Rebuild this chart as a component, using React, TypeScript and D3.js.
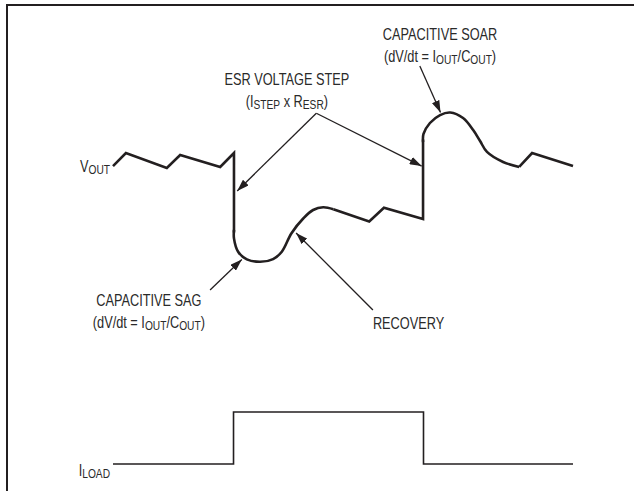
import React from "react";
import * as d3 from "d3";

const W = 634;
const H = 491;

// time runs 0..100 across the trace, VOUT as deviation units, ILOAD as 0 (light) / 1 (heavy)
const rippleBefore: [number, number][] = [
  [0, -0.7], [2.8, 8], [11.7, -2], [14.6, 6.7], [23.3, -1.3], [26.3, 8], [26.3, -45],
];
const sagCurve: [number, number][] = [
  [26.3, -43.3], [26.3, -48.9], [27.2, -57.8], [29.1, -62.9], [32.0, -64.5], [34.8, -62.7],
  [36.7, -57.8], [38.8, -45.5], [41.4, -35.5], [43.5, -30], [45.7, -28.2], [47.9, -29.5],
];
const recoveryRipple: [number, number][] = [
  [47.9, -29.5], [55.7, -37.7], [58.9, -28.5], [67.4, -36], [67.4, 17],
];
const soarCurve: [number, number][] = [
  [67.4, 15.3], [67.5, 20.7], [68.9, 28], [71.1, 33.3], [73.3, 35], [76.1, 31.3],
  [78.3, 23.3], [79.8, 16], [81.3, 8.7], [84.8, 2], [88.3, -1.3],
];
const rippleAfter: [number, number][] = [[88.3, -1.3], [91.1, 8], [100, -0.7]];

const loadEdges: [number, number][] = [[0, 0], [26.2, 1], [67.5, 0], [100, 0]];

type Seg = [string, boolean]; // text, subscript?
type Note = { t: number; v: number; anchor: string; lines: Seg[][] };

const notes: Note[] = [
  { t: 37.8, v: 53.3, anchor: "middle", lines: [
    [["ESR VOLTAGE STEP", false]],
    [["(I", false], ["STEP", true], [" x R", false], ["ESR", true], [")", false]],
  ] },
  { t: 71.1, v: 83.3, anchor: "middle", lines: [
    [["CAPACITIVE SOAR", false]],
    [["(dV/dt = I", false], ["OUT", true], ["/C", false], ["OUT", true], [")", false]],
  ] },
  { t: 7.8, v: -94, anchor: "middle", lines: [
    [["CAPACITIVE SAG", false]],
    [["(dV/dt = I", false], ["OUT", true], ["/C", false], ["OUT", true], [")", false]],
  ] },
  { t: 56.5, v: -109.3, anchor: "start", lines: [[["RECOVERY", false]]] },
  { t: -0.65, v: -4.7, anchor: "end", lines: [[["V", false], ["OUT", true]]] },
];
const loadLabel: Seg[] = [["I", false], ["LOAD", true]];
const loadLabelPos = { t: -0.65, level: -0.23 };

// arrows: [fromT, fromV, toT, toV]
const arrows: [number, number, number, number][] = [
  [44.2, 34.5, 27.0, -17.3],
  [44.2, 34.5, 67.1, -0.7],
  [66.7, 66, 71.2, 35],
  [21.1, -83.3, 28.0, -63],
  [56.5, -96.7, 39.8, -45.3],
];

const ink = "#231f20";
// condensed look: Liberation Sans squeezed horizontally
const font = "'Liberation Sans', Arial, sans-serif";
const squeeze = 0.75;

function Label({ x, y, anchor, segs }: { x: number; y: number; anchor: string; segs: Seg[] }) {
  let shifted = false;
  return (
    <text transform={`translate(${x},${y}) scale(${squeeze},1)`} textAnchor={anchor}>
      {segs.map(([s, sub], i) => {
        let dy = 0;
        if (sub && !shifted) { dy = 2; shifted = true; }
        else if (!sub && shifted) { dy = -2; shifted = false; }
        return (
          <tspan key={i} dy={dy} fontSize={sub ? "0.8em" : undefined}>{s}</tspan>
        );
      })}
    </text>
  );
}

export default function App() {
  const x = d3.scaleLinear().domain([0, 100]).range([113, 573]);
  const yV = d3.scaleLinear().domain([-100, 100]).range([315, 15]);
  const yI = d3.scaleLinear().domain([0, 1]).range([464, 412]);

  const straight = d3.line<[number, number]>().x(d => x(d[0])).y(d => yV(d[1]));
  const smooth = d3.line<[number, number]>().x(d => x(d[0])).y(d => yV(d[1])).curve(d3.curveCatmullRom.alpha(0.5));
  const step = d3.line<[number, number]>().x(d => x(d[0])).y(d => yI(d[1])).curve(d3.curveStepAfter);

  return (
    <svg width={W} height={H} style={{ position: "absolute", left: 0, top: 0, background: "#fff" }}>
      <defs>
        <marker id="head" viewBox="0 0 12 8" refX="12" refY="4" markerWidth="12" markerHeight="8"
          markerUnits="userSpaceOnUse" orient="auto">
          <path d="M0,0L12,4L0,8Z" fill={ink} />
        </marker>
      </defs>
      {/* frame */}
      <line x1={6} y1={5} x2={W} y2={5} stroke={ink} strokeWidth={2} />
      <line x1={7} y1={4} x2={7} y2={H} stroke={ink} strokeWidth={2} />

      <g fill="none" stroke={ink} strokeWidth={2.6} strokeLinejoin="miter" strokeLinecap="butt">
        <path d={straight(rippleBefore) || ""} />
        <path d={smooth(sagCurve) || ""} />
        <path d={straight(recoveryRipple) || ""} />
        <path d={smooth(soarCurve) || ""} />
        <path d={straight(rippleAfter) || ""} />
      </g>
      <path d={step(loadEdges) || ""} fill="none" stroke={ink} strokeWidth={1.6} />

      <g stroke={ink} strokeWidth={1.3}>
        {arrows.map((a, i) => (
          <line key={i} x1={x(a[0])} y1={yV(a[1])} x2={x(a[2])} y2={yV(a[3])} markerEnd="url(#head)" />
        ))}
      </g>

      <g fontFamily={font} fontSize={17} fill="#2a2a2a">
        {notes.map((n, i) =>
          n.lines.map((segs, j) => (
            <Label key={i + "-" + j} x={x(n.t)} y={yV(n.v) + j * 22} anchor={n.anchor} segs={segs} />
          ))
        )}
        <Label x={x(loadLabelPos.t)} y={yI(loadLabelPos.level)} anchor="end" segs={loadLabel} />
      </g>
    </svg>
  );
}
